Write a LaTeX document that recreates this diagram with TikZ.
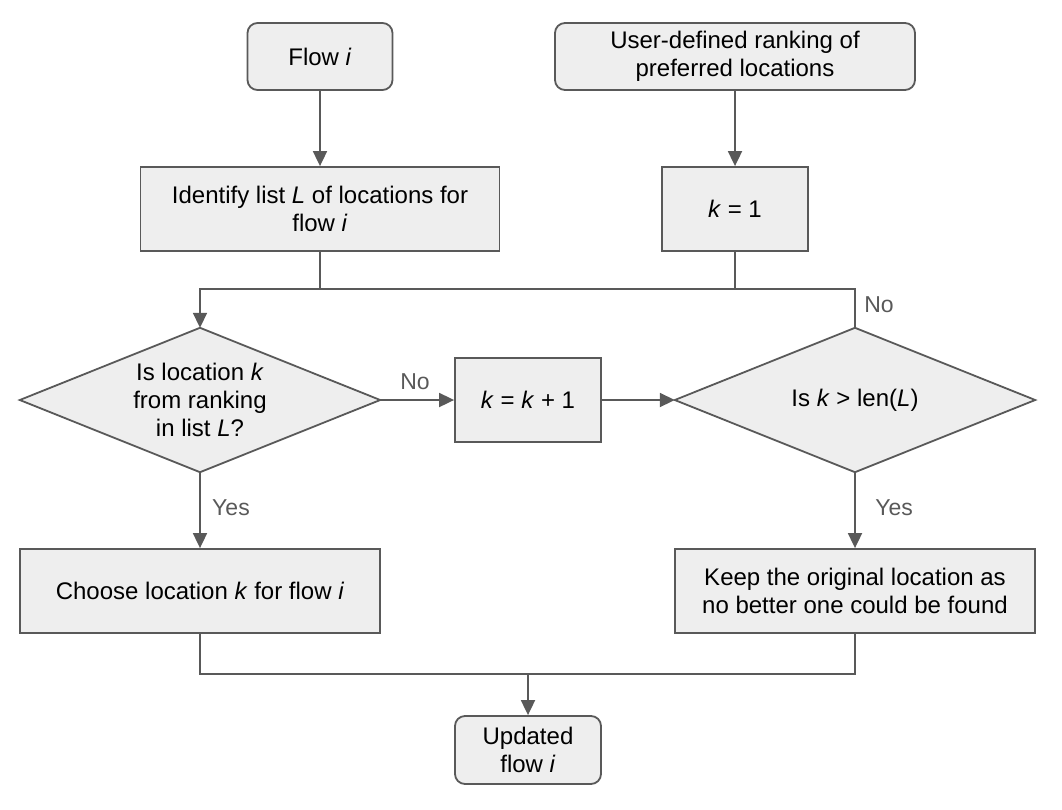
\documentclass[tikz,border=0pt]{standalone}
\usepackage{fontspec}
\setmainfont{Liberation Sans}
\usetikzlibrary{arrows.meta,backgrounds}
\definecolor{boxfill}{HTML}{EEEEEE}
\definecolor{linec}{HTML}{595959}
\tikzset{
  base/.style={draw=linec, fill=boxfill, line width=1.8pt, align=center, text=black,
    font=\fontsize{24}{28}\selectfont, inner sep=0pt},
  rbox/.style={base, rounded corners=10pt},
  pbox/.style={base},
  dtext/.style={align=center, text=black, font=\fontsize{24}{28}\selectfont, inner sep=0pt,
    minimum width=360pt, minimum height=144pt},
  dshape/.style={draw=linec, fill=boxfill, line width=1.8pt, line join=miter},
  conn/.style={draw=linec, line width=1.8pt},
  arr/.style={conn, -{Triangle[length=15pt,width=14pt]}},
  lab/.style={text=linec, font=\fontsize{23}{26}\selectfont, inner sep=0pt},
}
\begin{document}
\begin{tikzpicture}[x=1pt,y=-1pt]
\useasboundingbox (0,0) rectangle (1062,809);
\node[rbox, minimum width=145pt, minimum height=67pt] (flow) at (320,56.5) {Flow \textit{i}};
\node[rbox, minimum width=360pt, minimum height=67pt] (rank) at (735,56.5) {User-defined ranking of\\preferred locations};
\node[pbox, minimum width=359pt, minimum height=84pt] (ident) at (320,209) {Identify list \textit{L} of locations for\\flow \textit{i}};
\node[pbox, minimum width=146pt, minimum height=84pt] (k1) at (735,209) {\textit{k} = 1};
\node[dtext] (isin) at (200,400) {Is location \textit{k}\\from ranking\\in list \textit{L}?};
\node[pbox, minimum width=146pt, minimum height=84pt] (kinc) at (528,400) {\textit{k} = \textit{k} + 1};
\node[dtext] (isgt) at (855,400) {Is \textit{k} > len(\textit{L})};
\begin{scope}[on background layer]
\draw[dshape] (isin.north) -- (isin.east) -- (isin.south) -- (isin.west) -- cycle;
\draw[dshape] (isgt.north) -- (isgt.east) -- (isgt.south) -- (isgt.west) -- cycle;
\end{scope}
\node[pbox, minimum width=360pt, minimum height=84pt] (choose) at (200,591) {Choose location \textit{k} for flow \textit{i}};
\node[pbox, minimum width=360pt, minimum height=84pt] (keep) at (855,591) {Keep the original location as\\no better one could be found};
\node[rbox, minimum width=146pt, minimum height=68pt] (upd) at (528,750) {Updated\\flow \textit{i}};
\coordinate (jt) at (200,289);
\coordinate (jb) at (528,674);
\draw[arr] (flow) -- (ident);
\draw[arr] (rank) -- (k1);
\draw[arr] (ident.south) |- (jt) -- (isin.north);
\draw[conn] (k1.south) |- (jt);
\draw[conn] (isgt.north) |- (jt);
\draw[arr] (isin.east) -- (kinc.west);
\draw[arr] (kinc.east) -- (isgt.west);
\draw[arr] (isin.south) -- (choose.north);
\draw[arr] (isgt.south) -- (keep.north);
\draw[conn] (choose.south) |- (jb);
\draw[arr] (keep.south) |- (jb) -- (upd.north);
\node[lab] (lno1) at (415,382) {No};
\node[lab] (lno2) at (879,305) {No};
\node[lab] (lyes1) at (231,508) {Yes};
\node[lab] (lyes2) at (894,508) {Yes};
\end{tikzpicture}
\end{document}
